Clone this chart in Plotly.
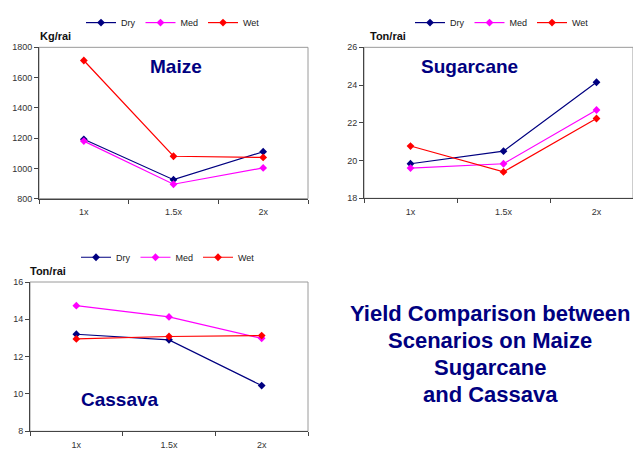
import plotly.graph_objects as go

W, H = 633, 450

categories = ["1x", "1.5x", "2x"]
series_names = ["Dry", "Med", "Wet"]
series_colors = ["#000080", "#FF00FF", "#FF0000"]

maize_dry = [1192, 925, 1110]
maize_med = [1180, 895, 1003]
maize_wet = [1713, 1080, 1072]

sugar_dry = [19.83, 20.50, 24.15]
sugar_med = [19.60, 19.83, 22.68]
sugar_wet = [20.77, 19.40, 22.23]

cass_dry = [13.20, 12.90, 10.45]
cass_med = [14.73, 14.13, 12.98]
cass_wet = [12.95, 13.08, 13.13]

crops = [
    ("Maize", "Kg/rai", [maize_dry, maize_med, maize_wet]),
    ("Sugarcane", "Ton/rai", [sugar_dry, sugar_med, sugar_wet]),
    ("Cassava", "Ton/rai", [cass_dry, cass_med, cass_wet]),
]

summary_lines = ["Yield Comparison between", "Scenarios on Maize", "Sugarcane", "and Cassava"]

FONT = "Liberation Sans, Arial, sans-serif"
NAVY = "#000080"


def px(x):
    return x / W


def py(y):
    return 1 - y / H


fig = go.Figure()

axis_ids = ["", "2", "3"]
legend_ids = ["legend", "legend2", "legend3"]
for (crop, unit, vals), ax, lg in zip(crops, axis_ids, legend_ids):
    for name, color, v in zip(series_names, series_colors, vals):
        fig.add_trace(go.Scatter(
            x=categories, y=v, name=name, mode="lines+markers",
            line=dict(color=color, width=1.2),
            marker=dict(symbol="diamond", size=6, color=color),
            xaxis="x" + ax, yaxis="y" + ax, legend=lg,
        ))

tickfont = dict(family=FONT, size=9, color="#333333")
common_x = dict(type="category", tickson="boundaries", ticks="outside", ticklen=4,
                tickcolor="#444444", showline=True, linecolor="#444444", linewidth=1,
                showgrid=False, zeroline=False, tickfont=tickfont, fixedrange=True,
                ticklabelstandoff=5)
common_y = dict(ticks="outside", ticklen=4, tickcolor="#444444", showline=True,
                linecolor="#444444", linewidth=1, showgrid=False, zeroline=False,
                tickfont=tickfont, fixedrange=True)

layout = dict(
    width=W, height=H, margin=dict(l=0, r=0, t=0, b=0),
    paper_bgcolor="white", plot_bgcolor="white",
    font=dict(family=FONT),
    xaxis=dict(common_x, domain=[px(39), px(308)], range=[-0.5, 2.5], anchor="y"),
    yaxis=dict(common_y, domain=[py(198), py(43.3)], range=[800, 1800], dtick=200, anchor="x"),
    xaxis2=dict(common_x, domain=[px(364), 1], range=[-0.5, -0.5 + (W - 364) / 93.0], anchor="y2"),
    yaxis2=dict(common_y, domain=[py(197.7), py(43.3)], range=[18, 26], dtick=2, anchor="x2"),
    xaxis3=dict(common_x, domain=[px(30), px(308)], range=[-0.5, 2.5], anchor="y3"),
    yaxis3=dict(common_y, domain=[py(436), py(283.3)], range=[8, 16], dtick=2, anchor="x3"),
    showlegend=True,
)

legend_pos = [(173, 18), (502, 18), (168, 258)]
for lg, (lx, ly) in zip(legend_ids, legend_pos):
    layout[lg] = dict(orientation="h", xanchor="center", yanchor="middle",
                      x=px(lx), y=py(ly), font=dict(family=FONT, size=9, color="#222222"),
                      bgcolor="rgba(0,0,0,0)", itemclick=False, itemdoubleclick=False,
                      tracegroupgap=0)

fig.update_layout(**layout)

# plot-area frames
for ax in axis_ids:
    fig.add_shape(type="rect", xref="x" + ax + " domain", yref="y" + ax + " domain",
                  x0=0, x1=1, y0=0, y1=1, line=dict(color="#9a9a9a", width=1), layer="below")

# unit labels
unit_pos = [(38, 32), (368, 32), (28, 272)]
for (crop, unit, _), (ux, uy) in zip(crops, unit_pos):
    fig.add_annotation(text="<b>" + unit + "</b>", x=px(ux), y=py(uy), xref="paper", yref="paper",
                       xanchor="left", yanchor="middle", showarrow=False,
                       font=dict(family=FONT, size=11, color="#111111"))

# crop titles
title_pos = [(176, 63), (469, 63), (120, 403)]
for (crop, unit, _), (tx, ty) in zip(crops, title_pos):
    fig.add_annotation(text="<b>" + crop + "</b>", x=px(tx), y=py(ty), xref="paper", yref="paper",
                       xanchor="center", yanchor="middle", showarrow=False,
                       font=dict(family=FONT, size=19, color=NAVY))

# summary text
line_y = [316, 343, 371, 398]
for t, ly in zip(summary_lines, line_y):
    fig.add_annotation(text="<b>" + t + "</b>", x=px(490), y=py(ly), xref="paper", yref="paper",
                       xanchor="center", yanchor="middle", showarrow=False,
                       font=dict(family=FONT, size=22, color=NAVY))

fig.write_html("out.html")
